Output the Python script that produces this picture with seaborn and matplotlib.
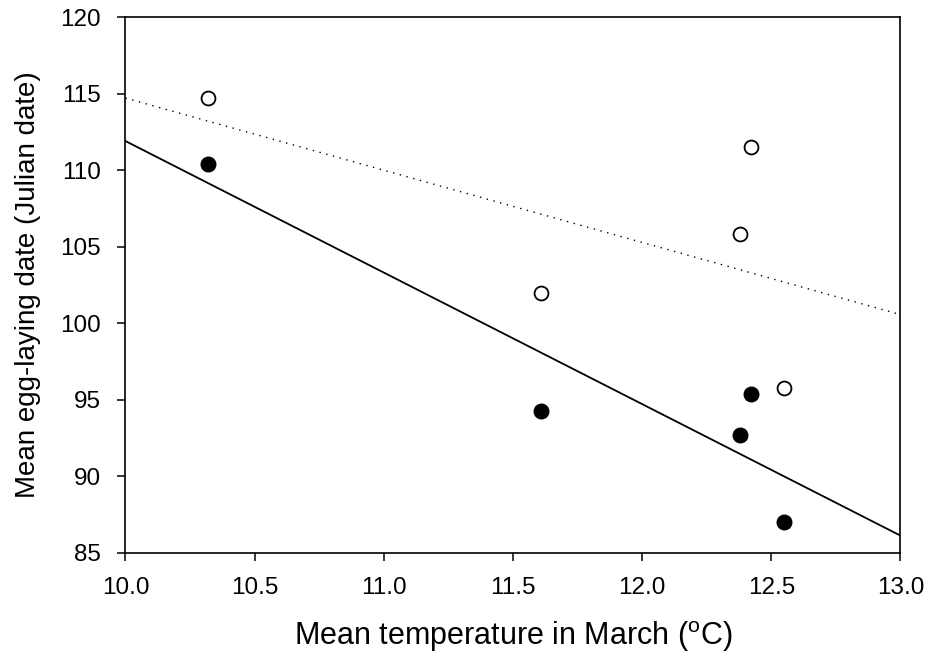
import pandas as pd
import seaborn as sns
import matplotlib.pyplot as plt

# mean March temperature for each year/site
temp_march = [10.32, 11.61, 12.38, 12.42, 12.55]
# open circles (dotted fit) and filled circles (solid fit)
laying_open = [114.7, 102.0, 105.85, 111.5, 95.75]
laying_filled = [110.4, 94.3, 92.7, 95.35, 87.05]

df = pd.DataFrame({
    "temp": temp_march,
    "open": laying_open,
    "filled": laying_filled,
})

sns.set_theme(style="ticks")
plt.rcParams["font.family"] = ["Liberation Sans", "DejaVu Sans"]
plt.rcParams["mathtext.fontset"] = "custom"
plt.rcParams["mathtext.rm"] = "Liberation Sans"
plt.rcParams["text.color"] = "black"
plt.rcParams["axes.labelcolor"] = "black"

fig = plt.figure(figsize=(9.31, 6.57), dpi=100)
ax = fig.add_axes([0.1348, 0.1583, 0.8324, 0.8158])
ax.set_xlim(10, 13)
ax.set_ylim(85, 120)

sns.regplot(data=df, x="temp", y="open", ax=ax, ci=None, truncate=False,
            scatter_kws=dict(s=100, facecolor="white", edgecolor="black", linewidths=1.3, alpha=1, zorder=3),
            line_kws=dict(color="black", linestyle=(0, (1, 4)), linewidth=1.0))
sns.regplot(data=df, x="temp", y="filled", ax=ax, ci=None, truncate=False,
            scatter_kws=dict(s=110, color="black", edgecolor="black", alpha=1, zorder=3),
            line_kws=dict(color="black", linewidth=1.3))

ax.set_xlim(10, 13)
ax.set_ylim(85, 120)
ax.set_xticks([10.0, 10.5, 11.0, 11.5, 12.0, 12.5, 13.0])
ax.set_xticklabels(["10.0", "10.5", "11.0", "11.5", "12.0", "12.5", "13.0"])
ax.set_yticks(range(85, 121, 5))

for s in ax.spines.values():
    s.set_visible(True)
    s.set_color("black")
    s.set_linewidth(1.2)

ax.tick_params(direction="out", length=5.5, width=1.1, labelsize=17.5, colors="black", pad=12)
ax.set_xlabel("Mean temperature in March ($^{\\rm o}$C)", fontsize=22, labelpad=14)
ax.set_ylabel("Mean egg-laying date (Julian date)", fontsize=20, labelpad=14)

plt.savefig("out.png", dpi=100)
plt.close()
